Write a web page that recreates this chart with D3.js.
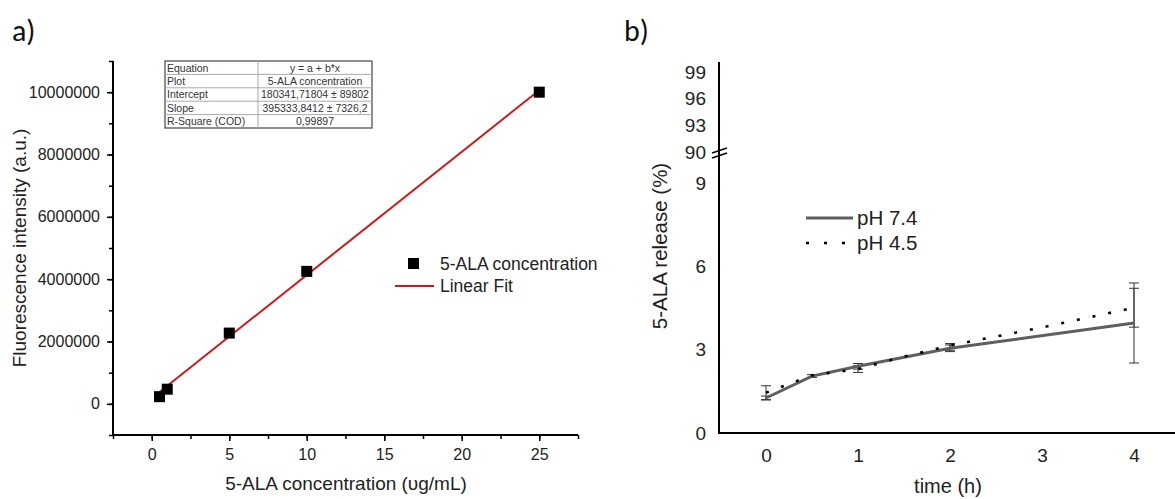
<!DOCTYPE html>
<html><head><meta charset="utf-8">
<script src="https://cdn.jsdelivr.net/npm/d3@7"></script>
<style>body{margin:0;background:#fff}svg{display:block;font-family:"Liberation Sans",Arial,sans-serif}</style>
</head><body>
<svg id="c" width="1175" height="499"></svg>
<script>
// Panel a data
const concX = [0.5, 1, 5, 10, 25];
const fluorY = [230000, 470000, 2270000, 4250000, 10000000];
const fitIntercept = 180341.71804, fitSlope = 395333.8412;
const aXTicks = [0, 5, 10, 15, 20, 25];
const aYTicks = [0, 2000000, 4000000, 6000000, 8000000, 10000000];
const tableRows = [["Equation","y = a + b*x"],["Plot","5-ALA concentration"],["Intercept","180341,71804 ± 89802"],["Slope","395333,8412 ± 7326,2"],["R-Square (COD)","0,99897"]];
// Panel b data
const timeH = [0, 0.5, 1, 2, 4];
const ph74 = [1.26, 2.05, 2.4, 3.05, 3.96];
const ph74Err = [0.07, 0.05, 0.1, 0.12, 1.44];
const timeH45 = [0, 0.5, 1, 1.5, 2, 3, 4];
const ph45 = [1.45, 2.08, 2.3, 2.75, 3.15, 3.8, 4.51];
const ph45ErrT = [0, 1, 2, 4];
const ph45ErrV = [1.45, 2.3, 3.1, 4.51];
const ph45Err = [0.25, 0.12, 0.12, 0.7];
const bXTicks = [0, 1, 2, 3, 4];
const bYLowTicks = [0, 3, 6, 9];
const bYHighTicks = [90, 93, 96, 99];

const FF = "Liberation Sans, Arial, sans-serif";
const svg = d3.select("#c");
// ---------- Panel a ----------
const ax = d3.scaleLinear([-2.5, 27.5], [113, 578]);
const ay = d3.scaleLinear([-1e6, 11e6], [435, 61]);
const ga = svg.append("g");
ga.append("g").attr("transform","translate(0,435)")
  .call(d3.axisBottom(ax).tickValues(d3.range(-2.5, 27.6, 2.5)).tickSize(4).tickFormat(""))
  .call(g=>g.select(".domain").remove()).selectAll("line").attr("stroke","#000").attr("stroke-width",1.5);
ga.append("g").attr("transform","translate(0,435)")
  .call(d3.axisBottom(ax).tickValues(aXTicks).tickSize(6).tickPadding(8).tickFormat(d3.format("d")))
  .call(g=>{g.select(".domain").remove(); g.selectAll("line").attr("stroke","#000").attr("stroke-width",1.5);
    g.selectAll("text").attr("font-size",16).attr("fill","#222").attr("font-family",FF);});
ga.append("g").attr("transform","translate(113,0)")
  .call(d3.axisLeft(ay).tickValues(d3.range(-1e6, 11.1e6, 1e6)).tickSize(4).tickFormat(""))
  .call(g=>g.select(".domain").remove()).selectAll("line").attr("stroke","#000").attr("stroke-width",1.5);
ga.append("g").attr("transform","translate(113,0)")
  .call(d3.axisLeft(ay).tickValues(aYTicks).tickSize(6).tickPadding(7).tickFormat(d3.format("d")))
  .call(g=>{g.select(".domain").remove(); g.selectAll("line").attr("stroke","#000").attr("stroke-width",1.5);
    g.selectAll("text").attr("font-size",16).attr("fill","#222").attr("font-family",FF);});
ga.append("path").attr("d",`M113,61V435H578`).attr("fill","none").attr("stroke","#000").attr("stroke-width",2);
// fit line
const fx = [0.5, 25];
ga.append("line").attr("x1",ax(fx[0])).attr("y1",ay(fitIntercept+fitSlope*fx[0]))
  .attr("x2",ax(fx[1])).attr("y2",ay(fitIntercept+fitSlope*fx[1]))
  .attr("stroke","#d01818").attr("stroke-width",2);
// points
ga.selectAll("rect.pt").data(concX).join("rect").attr("class","pt")
  .attr("x",(d)=>ax(d)-5.5).attr("y",(d,i)=>ay(fluorY[i])-5.5).attr("width",11).attr("height",11).attr("fill","#000");
// table
const tX=165, tY=61, c1=93, c2=114, rh=13.4;
const tb = ga.append("g");
tb.append("rect").attr("x",tX).attr("y",tY).attr("width",c1+c2).attr("height",rh*5).attr("fill","#fff").attr("stroke","#444").attr("stroke-width",1.2);
tableRows.forEach((r,i)=>{
  if(i>0) tb.append("line").attr("x1",tX).attr("x2",tX+c1+c2).attr("y1",tY+rh*i).attr("y2",tY+rh*i).attr("stroke","#aaa");
  tb.append("text").attr("x",tX+2).attr("y",tY+rh*i+10.5).attr("font-size",10.5).attr("fill","#333").text(r[0]);
  tb.append("text").attr("x",tX+c1+c2/2).attr("y",tY+rh*i+10.5).attr("font-size",10.5).attr("fill","#333").attr("text-anchor","middle").text(r[1]);
});
tb.append("line").attr("x1",tX+c1).attr("x2",tX+c1).attr("y1",tY).attr("y2",tY+rh*5).attr("stroke","#aaa");
// legend a
ga.append("rect").attr("x",408).attr("y",258).attr("width",11).attr("height",11).attr("fill","#000");
ga.append("text").attr("x",440).attr("y",270).attr("font-size",17.5).attr("fill","#222").text("5-ALA concentration");
ga.append("line").attr("x1",395).attr("x2",434).attr("y1",286).attr("y2",286).attr("stroke","#d01818").attr("stroke-width",2);
ga.append("text").attr("x",440).attr("y",292).attr("font-size",17.5).attr("fill","#222").text("Linear Fit");
// labels
ga.append("text").attr("transform","translate(26,248) rotate(-90)").attr("text-anchor","middle").attr("font-size",19).attr("fill","#222").text("Fluorescence intensity (a.u.)");
ga.append("text").attr("x",346).attr("y",490).attr("text-anchor","middle").attr("font-size",19).attr("fill","#222").text("5-ALA concentration (υg/mL)");
svg.append("text").attr("x",12).attr("y",41).attr("font-size",30).attr("fill","#111").attr("font-family","Carlito, Calibri, 'Liberation Sans'").text("a)");
svg.append("text").attr("x",624).attr("y",41).attr("font-size",30).attr("fill","#111").attr("font-family","Carlito, Calibri, 'Liberation Sans'").text("b)");

// ---------- Panel b ----------
const bx = d3.scaleLinear([0, 4], [766, 1134]);
const byL = d3.scaleLinear([0, 9], [433, 183]);
const byH = d3.scaleLinear([90, 99], [152, 72]);
const gb = svg.append("g");
gb.append("g").attr("transform","translate(0,433)")
  .call(d3.axisBottom(bx).tickValues(bXTicks).tickSize(0).tickPadding(16).tickFormat(d3.format("d")))
  .call(g=>{g.select(".domain").remove(); g.selectAll("text").attr("font-size",19).attr("fill","#222").attr("font-family",FF);});
gb.append("g").attr("transform","translate(719,0)")
  .call(d3.axisLeft(byL).tickValues(bYLowTicks).tickSize(0).tickPadding(13).tickFormat(d3.format("d")))
  .call(g=>{g.select(".domain").remove(); g.selectAll("text").attr("font-size",19).attr("fill","#222").attr("font-family",FF);});
gb.append("g").attr("transform","translate(719,0)")
  .call(d3.axisLeft(byH).tickValues(bYHighTicks).tickSize(0).tickPadding(13).tickFormat(d3.format("d")))
  .call(g=>{g.select(".domain").remove(); g.selectAll("text").attr("font-size",19).attr("fill","#222").attr("font-family",FF);});
gb.append("path").attr("d",`M719,62V433H1175`).attr("fill","none").attr("stroke","#000").attr("stroke-width",2);
// break marks
gb.append("line").attr("x1",712).attr("y1",153).attr("x2",727).attr("y2",148).attr("stroke","#000").attr("stroke-width",1.5);
gb.append("line").attr("x1",712).attr("y1",158).attr("x2",727).attr("y2",153).attr("stroke","#000").attr("stroke-width",1.5);
// error bars
function errBars(ts, vs, es){
  ts.forEach((t,i)=>{
    const x=bx(t), y1=byL(vs[i]+es[i]), y2=byL(vs[i]-es[i]);
    gb.append("line").attr("x1",x).attr("x2",x).attr("y1",y1).attr("y2",y2).attr("stroke","#333").attr("stroke-width",1);
    [y1,y2].forEach(y=>gb.append("line").attr("x1",x-5).attr("x2",x+5).attr("y1",y).attr("y2",y).attr("stroke","#333").attr("stroke-width",1));
  });
}
errBars(timeH, ph74, ph74Err);
errBars(ph45ErrT, ph45ErrV, ph45Err);
// lines
const l74 = d3.line().x((d,i)=>bx(timeH[i])).y(d=>byL(d));
gb.append("path").attr("d",l74(ph74)).attr("fill","none").attr("stroke","#5e5e5e").attr("stroke-width",3);
const l45 = d3.line().x((d,i)=>bx(timeH45[i])).y(d=>byL(d));
gb.append("path").attr("d",l45(ph45)).attr("fill","none").attr("stroke","#000").attr("stroke-width",2.6).attr("stroke-dasharray","3 13");
// legend b
gb.append("line").attr("x1",806).attr("x2",853).attr("y1",218).attr("y2",218).attr("stroke","#5e5e5e").attr("stroke-width",3);
gb.append("text").attr("x",857).attr("y",225).attr("font-size",20.5).attr("fill","#222").text("pH 7.4");
gb.append("line").attr("x1",806).attr("x2",853).attr("y1",243).attr("y2",243).attr("stroke","#000").attr("stroke-width",2.6).attr("stroke-dasharray","3 15");
gb.append("text").attr("x",857).attr("y",250).attr("font-size",20.5).attr("fill","#222").text("pH 4.5");
gb.append("text").attr("transform","translate(667,246) rotate(-90)").attr("text-anchor","middle").attr("font-size",20.5).attr("fill","#222").text("5-ALA release (%)");
gb.append("text").attr("x",948).attr("y",493).attr("text-anchor","middle").attr("font-size",20).attr("fill","#222").text("time (h)");
</script>
</body></html>
